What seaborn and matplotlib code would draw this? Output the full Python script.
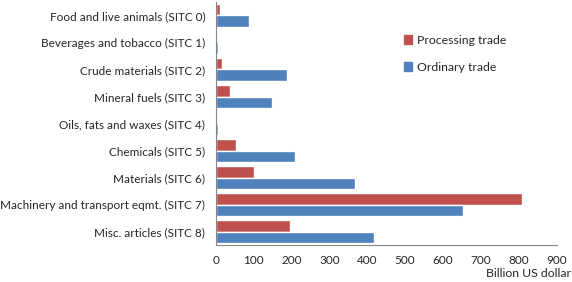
import numpy as np
import pandas as pd
import matplotlib
matplotlib.use('Agg')
import matplotlib.pyplot as plt
import seaborn as sns

# values (billion US dollar)
categories = ['Food and live animals (SITC 0)', 'Beverages and tobacco (SITC 1)',
              'Crude materials (SITC 2)', 'Mineral fuels (SITC 3)',
              'Oils, fats and waxes (SITC 4)', 'Chemicals (SITC 5)',
              'Materials (SITC 6)', 'Machinery and transport eqmt. (SITC 7)',
              'Misc. articles (SITC 8)']
processing = [11, 1, 17, 37, 1, 55, 102, 809, 196]
ordinary = [88, 5, 189, 149, 7, 209, 368, 653, 418]
series_names = ['Processing trade', 'Ordinary trade']
colors = ['#C0504D', '#4F81BD']
xticks = [0, 100, 200, 300, 400, 500, 600, 700, 800, 900]

df = pd.DataFrame({
    'category': categories * 2,
    'value': processing + ordinary,
    'trade': [series_names[0]] * len(categories) + [series_names[1]] * len(categories),
})

sns.set_style('white')
plt.rcParams['font.family'] = ['Lato', 'DejaVu Sans']
fs = 8.5

fig, ax = plt.subplots(figsize=(5.72, 2.82), dpi=100)
fig.subplots_adjust(left=0.377, right=0.973, top=0.993, bottom=0.131)

sns.barplot(data=df, y='category', x='value', hue='trade', orient='h',
            palette=colors, width=0.86, saturation=1, ax=ax, legend=False)

ax.set_xlim(0, 900)
ax.set_xticks(xticks)
ax.set_ylim(len(categories) - 0.5, -0.5)
ax.set_yticks(np.arange(-0.5, len(categories)), minor=True)
ax.tick_params(axis='y', which='major', length=0, labelsize=fs, pad=7.5)
ax.tick_params(axis='y', which='minor', length=4, color='#868686', width=0.8, direction='out')
ax.tick_params(axis='x', length=4, color='#868686', width=0.8, labelsize=fs, direction='out', pad=3)
ax.set_ylabel('')
ax.set_xlabel('')
for s in ['top', 'right']:
    ax.spines[s].set_visible(False)
for s in ['left', 'bottom']:
    ax.spines[s].set_color('#868686')
    ax.spines[s].set_linewidth(0.8)

fig.text(0.998, 0.012, 'Billion US dollar', ha='right', va='bottom', fontsize=fs + 0.3)

handles = [plt.Rectangle((0, 0), 1, 1, color=c) for c in colors]
ax.legend(handles, series_names, loc='upper left', bbox_to_anchor=(0.52, 0.91),
          frameon=False, fontsize=fs + 0.3, handlelength=0.7, handleheight=0.7,
          labelspacing=1.3, handletextpad=0.4)

fig.savefig('out.png', dpi=100)
